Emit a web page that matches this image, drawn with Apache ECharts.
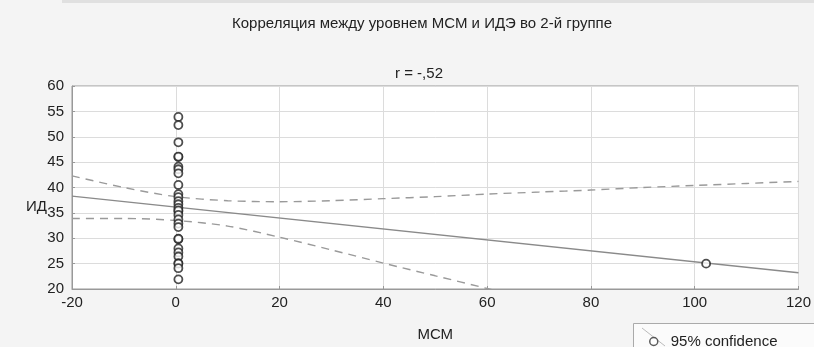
<!DOCTYPE html>
<html>
<head>
<meta charset="utf-8">
<script src="https://cdn.jsdelivr.net/npm/echarts@6/dist/echarts.min.js"></script>
<style>html,body{margin:0;padding:0;background:#f4f4f4;}#c{width:814px;height:347px;}</style>
</head>
<body>
<div id="c"></div>
<script>
const titleText = 'Корреляция между уровнем МСМ и ИДЭ во 2-й группе';
const subtitleText = 'r = -,52';
const xName = 'МСМ';
const yName = 'ИД';
const legendName = '95% confidence';
const xTicks = {min: -20, max: 120, interval: 20};
const yTicks = {min: 20, max: 60, interval: 5};

// observed points
const pointX = [0.5,0.5,0.5,0.5,0.5,0.5,0.5,0.5,0.5,0.5,0.5,0.5,0.5,0.5,0.5,0.5,0.5,0.5,0.5,0.5,0.5,0.5,0.5,0.5,0.5,0.5,0.5,0.5,0.5,102.2];
const pointY = [53.9,52.3,48.9,46.0,46.1,44.1,43.6,42.8,40.5,38.7,38.1,37.3,36.7,36.0,35.3,35.5,34.6,33.7,32.9,32.2,29.8,29.9,28.0,27.2,26.4,25.1,25.0,24.1,21.9,25.0];

// regression line
const fitX = [-20, 120];
const fitY = [38.3, 23.2];

// 95% confidence band
const upperX = [-20,-10,0,10,20,30,40,50,60,70,80,90,100,110,120];
const upperY = [42.3,40.0,38.2,37.4,37.2,37.4,37.8,38.2,38.7,39.1,39.5,40.0,40.4,40.8,41.2];
const lowerX = [-20,-10,0,10,20,30,40,50,60,70];
const lowerY = [33.9,33.9,33.5,32.4,30.2,27.7,25.1,22.6,20.1,17.5];

const zip = (a, b) => a.map((v, i) => [v, b[i]]);
const FONT = '"Liberation Sans", Arial, sans-serif';

const chart = echarts.init(document.getElementById('c'), null, {renderer: 'canvas'});
chart.setOption({
  backgroundColor: '#f4f4f4',
  animation: false,
  title: [
    {text: titleText, left: 417, top: 11, textAlign: 'center',
     textStyle: {fontFamily: FONT, fontSize: 15, fontWeight: 'normal', color: '#222'}},
    {text: subtitleText, left: 414, top: 61, textAlign: 'center',
     textStyle: {fontFamily: FONT, fontSize: 15, fontWeight: 'normal', color: '#222'}}
  ],
  grid: {left: 72, right: 13, top: 86, bottom: 54, show: true, backgroundColor: '#fff', borderColor: '#999', borderWidth: 1},
  legend: {
    data: [legendName], left: 644, top: 329, orient: 'horizontal',
    itemWidth: 8, itemHeight: 8, icon: 'circle',
    itemStyle: {color: '#fff', borderColor: '#333', borderWidth: 1.5},
    textStyle: {fontFamily: FONT, fontSize: 15, color: '#222', padding: [0,0,0,8]}
  },
  xAxis: {
    type: 'value', min: xTicks.min, max: xTicks.max, interval: xTicks.interval,
    name: xName, nameLocation: 'middle', nameGap: 38,
    nameTextStyle: {fontFamily: FONT, fontSize: 15, color: '#222'},
    axisLine: {show: true, onZero: false, lineStyle: {color: '#999'}},
    axisTick: {show: true, inside: true, length: 3, lineStyle: {color: '#999'}},
    axisLabel: {fontFamily: FONT, fontSize: 15, color: '#222', margin: 6},
    splitLine: {show: true, lineStyle: {color: '#dcdcdc'}}
  },
  yAxis: {
    type: 'value', min: yTicks.min, max: yTicks.max, interval: yTicks.interval,
    axisLine: {show: true, onZero: false, lineStyle: {color: '#999'}},
    axisTick: {show: true, inside: true, length: 3, lineStyle: {color: '#999'}},
    axisLabel: {fontFamily: FONT, fontSize: 15, color: '#222', margin: 8},
    splitLine: {show: true, lineStyle: {color: '#dcdcdc'}}
  },
  graphic: [
    {type: 'rect', shape: {x: 62, y: 0, width: 752, height: 3}, style: {fill: '#e0e0e0'}, silent: true},
    {type: 'text', left: 26, top: 199, style: {text: yName, font: '15px ' + FONT, fill: '#222'}},
    {type: 'rect', shape: {x: 633.5, y: 323.5, width: 200, height: 30}, style: {fill: '#fbfbfb', stroke: '#aaa', lineWidth: 1}, z: -1, silent: true},
    {type: 'line', shape: {x1: 642, y1: 328, x2: 665, y2: 346}, style: {stroke: '#bbb', lineWidth: 1}, silent: true}
  ],
  series: [
    {type: 'line', name: 'fit', data: zip(fitX, fitY), symbol: 'none', clip: true,
     lineStyle: {color: '#8a8a8a', width: 1.3}, z: 2},
    {type: 'line', name: 'upper', data: zip(upperX, upperY), symbol: 'none', smooth: 0.3, clip: true,
     lineStyle: {color: '#9a9a9a', width: 1.4, type: [8, 6]}, z: 2},
    {type: 'line', name: 'lower', data: zip(lowerX, lowerY), symbol: 'none', smooth: 0.3, clip: true,
     lineStyle: {color: '#9a9a9a', width: 1.4, type: [8, 6]}, z: 2},
    {type: 'scatter', name: legendName, data: zip(pointX, pointY), symbol: 'circle', symbolSize: 8,
     itemStyle: {color: '#fff', borderColor: '#222', borderWidth: 1.8}, z: 3}
  ]
});
</script>
</body>
</html>
